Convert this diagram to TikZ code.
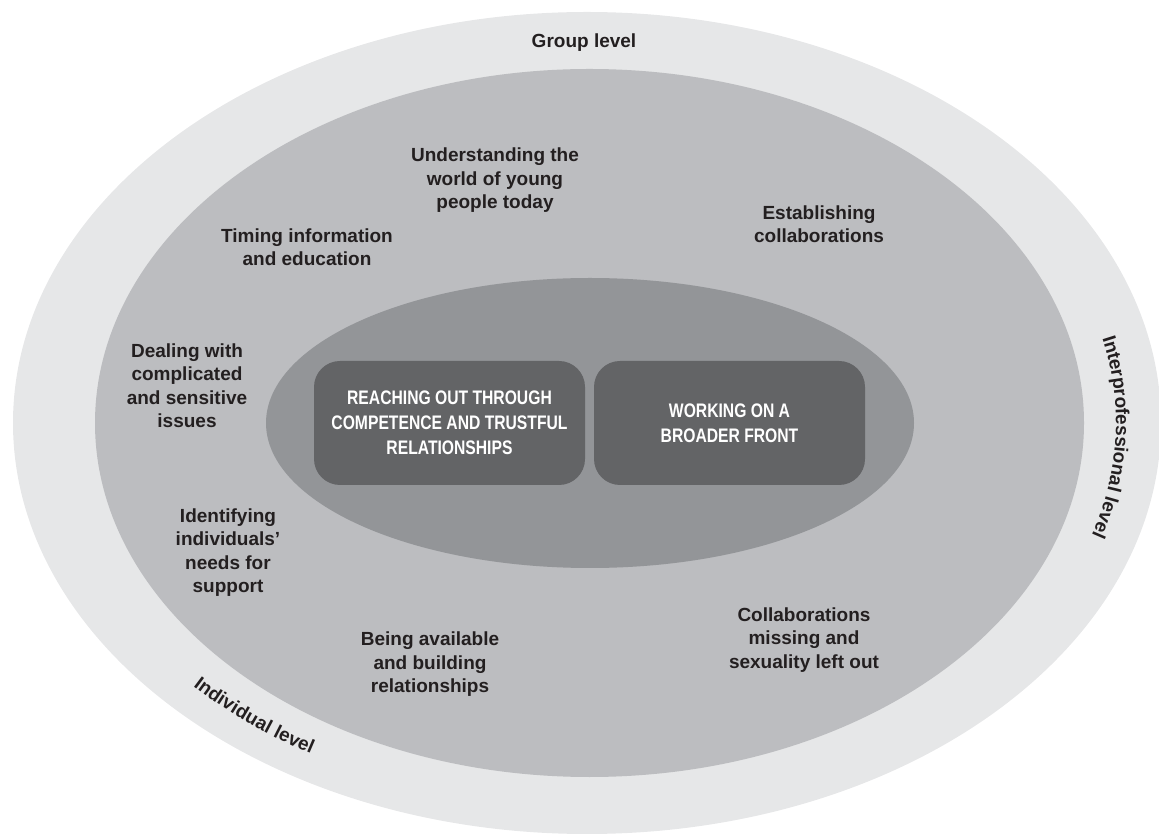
\documentclass[tikz,border=0pt]{standalone}
\usepackage{fontspec}
\setmainfont{Liberation Sans}
\newfontfamily\condfont[FakeStretch=0.8]{Liberation Sans}
\usepackage{xcolor}
\usetikzlibrary{shapes.geometric,decorations.text}

\definecolor{ringgray}{HTML}{E6E7E8}
\definecolor{midgray}{HTML}{BCBDC0}
\definecolor{innergray}{HTML}{939598}
\definecolor{boxgray}{HTML}{636466}
\definecolor{textgray}{HTML}{231F20}

\newcommand\lvlfont{\bfseries\fontsize{19}{23.5}\selectfont}

\begin{document}
\begin{tikzpicture}[
            x = 1pt, y = 1pt, % one unit = one pixel
            every node/.style = {inner sep = 0pt}
        ]

        \tikzstyle{zone}=[
            shape = ellipse,
            draw = none
        ]
        \tikzstyle{themebox}=[
            rectangle,
            rounded corners = 26pt,
            fill = boxgray,
            minimum width = 271pt,
            minimum height = 124pt
        ]
        \tikzstyle{themetext}=[
            align = center,
            text = white,
            font = \condfont\bfseries\fontsize{19.6}{24.8}\selectfont
        ]
        \tikzstyle{subtheme}=[
            align = center,
            text = textgray,
            font = \lvlfont
        ]

\useasboundingbox (0,0) rectangle (1159,833);

% levels
\node[zone, fill=ringgray, minimum width=1148pt, minimum height=822pt] (outer) at (587,410) {};
\node[zone, fill=midgray, minimum width=989pt, minimum height=708pt] (middle) at (589.5,410) {};
\node[zone, fill=innergray, minimum width=648pt, minimum height=290pt] (inner) at (590,410) {};

% main themes
\node[themebox] (reach) at (449.5,410) {};
\node[themebox] (front) at (729.5,410) {};
\node[themetext] (reachtxt) at (reach) {REACHING OUT THROUGH\\COMPETENCE AND TRUSTFUL\\RELATIONSHIPS};
\node[themetext] (fronttxt) at (front) {WORKING ON A\\BROADER FRONT};

% sub themes
\node[subtheme] (world) at (495,652.5) {Understanding the\\world of young\\people today};
\node[subtheme] (timing) at (307,586) {Timing information\\and education};
\node[subtheme] (establish) at (819,609) {Establishing\\collaborations};
\node[subtheme] (dealing) at (187,447.5) {Dealing with\\complicated\\and sensitive\\issues};
\node[subtheme] (needs) at (228,280.5) {Identifying\\individuals’\\needs for\\support};
\node[subtheme] (available) at (430,168.5) {Being available\\and building\\relationships};
\node[subtheme] (missing) at (804,193) {Collaborations\\missing and\\sexuality left out};

% level names
\node[subtheme] (group) at (584,790.5) {Group level};
\path[decorate, decoration={text along path, text align=center,
        text={|\color{textgray}\lvlfont|Interprofessional level}}]
    (outer.center) ++(28:529 and 375) arc[start angle=28, end angle=-32, x radius=529, y radius=375];
\path[decorate, decoration={text along path, text align=center,
        text={|\color{textgray}\lvlfont|Individual level}}]
    (outer.center) ++(212:540 and 385) arc[start angle=212, end angle=249, x radius=540, y radius=385];
\end{tikzpicture}
\end{document}
